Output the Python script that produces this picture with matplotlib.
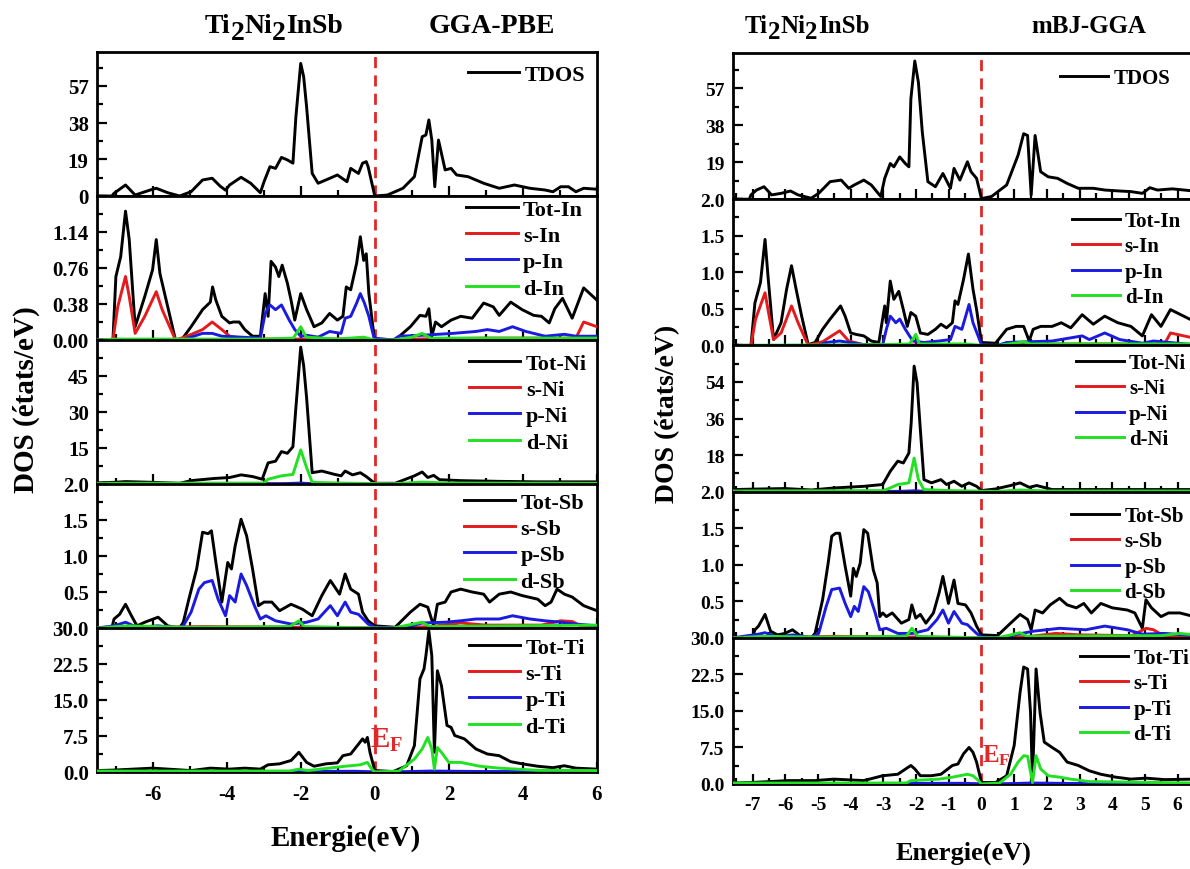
import numpy as np
import matplotlib
matplotlib.use("Agg")
import matplotlib.pyplot as plt
from matplotlib.ticker import FixedLocator, MultipleLocator

plt.rcParams['font.family'] = ['Liberation Serif', 'DejaVu Serif']
plt.rcParams['font.weight'] = 'bold'
plt.rcParams['axes.unicode_minus'] = False
plt.rcParams['mathtext.fontset'] = 'custom'
plt.rcParams['mathtext.rm'] = 'Liberation Serif:bold'
plt.rcParams['mathtext.it'] = 'Liberation Serif:bold'
plt.rcParams['mathtext.bf'] = 'Liberation Serif:bold'

# ---------------- DATA (energy eV, DOS) ----------------
# GGA-PBE (left)
tdos_L = [(-7.5,0),(-7.1,0),(-7.04,1.4),(-6.73,5.7),(-6.47,0.5),(-6.0,3.5),(-5.9,4),(-5.59,1.7),(-5.27,0),(-4.96,2.2),(-4.65,8.3),(-4.39,9.2),(-4.18,5.2),(-4.03,3),(-3.92,5.7),(-3.61,9.7),(-3.35,6.6),(-3.09,1.7),(-2.99,7.4),(-2.83,15.2),(-2.68,14.3),(-2.52,20),(-2.36,18.7),(-2.21,17),(-2.13,41),(-2.0,68.7),(-1.92,61.8),(-1.84,46),(-1.69,11.7),(-1.53,6.6),(-1.32,8.3),(-1.01,10.9),(-0.75,7.4),(-0.65,14.3),(-0.44,11.7),(-0.33,17),(-0.23,17.8),(-0.18,15.2),(0.0,0),(0.34,0.5),(0.76,4),(1.07,10),(1.28,30.7),(1.38,31.6),(1.46,39.4),(1.54,29),(1.62,4.8),(1.72,29),(1.9,13.5),(2.06,14.3),(2.21,10.9),(2.52,10),(2.94,6.6),(3.36,4),(3.77,5.7),(4.19,4),(4.6,3.1),(4.81,2.2),(5.02,4.8),(5.23,4.8),(5.43,2.2),(5.64,4),(6.0,3.5)]

tot_In_L = [(-7.5,0),(-7.07,0),(-6.99,0.67),(-6.86,0.88),(-6.73,1.36),(-6.63,1.06),(-6.47,0.14),(-6.21,0.46),(-6.0,0.74),(-5.9,1.06),(-5.8,0.70),(-5.59,0.35),(-5.38,0),(-5.22,0),(-4.96,0.14),(-4.65,0.32),(-4.44,0.40),(-4.38,0.56),(-4.29,0.42),(-4.13,0.25),(-3.92,0.18),(-3.82,0.19),(-3.66,0.19),(-3.51,0.11),(-3.3,0.04),(-3.09,0.04),(-2.96,0.49),(-2.88,0.25),(-2.8,0.83),(-2.68,0.77),(-2.59,0.67),(-2.5,0.79),(-2.36,0.60),(-2.26,0.42),(-2.16,0.21),(-2.0,0.49),(-1.84,0.32),(-1.64,0.14),(-1.43,0.18),(-1.22,0.28),(-1.01,0.21),(-0.86,0.25),(-0.77,0.56),(-0.65,0.53),(-0.49,0.81),(-0.39,1.09),(-0.3,0.84),(-0.23,0.91),(-0.16,0.49),(-0.02,0.04),(0.03,0),(0.55,0),(0.96,0.14),(1.22,0.26),(1.38,0.25),(1.46,0.33),(1.54,0.04),(1.64,0.19),(1.8,0.14),(2.06,0.21),(2.32,0.25),(2.63,0.23),(2.94,0.39),(3.2,0.35),(3.36,0.26),(3.67,0.40),(3.98,0.32),(4.29,0.26),(4.5,0.25),(4.71,0.18),(4.86,0.33),(5.07,0.44),(5.33,0.23),(5.64,0.55),(6.0,0.42)]
s_In_L = [(-7.5,0),(-7.07,0),(-6.94,0.35),(-6.73,0.67),(-6.63,0.46),(-6.47,0.07),(-6.21,0.25),(-5.9,0.51),(-5.74,0.32),(-5.38,0),(-5.07,0.04),(-4.65,0.11),(-4.39,0.19),(-4.13,0.11),(-3.92,0.04),(-3.61,0.02),(-3.0,0.01),(-0.5,0.01),(0,0),(0.5,0),(1.0,0.01),(3.0,0.02),(5.0,0.02),(5.43,0.02),(5.64,0.19),(6.0,0.14)]
p_In_L = [(-7.5,0),(-5.2,0),(-4.65,0.07),(-4.39,0.07),(-4.13,0.04),(-3.09,0.02),(-2.96,0.28),(-2.83,0.37),(-2.68,0.32),(-2.52,0.37),(-2.31,0.21),(-2.16,0.11),(-2.0,0.04),(-1.84,0.05),(-1.53,0.03),(-1.22,0.09),(-0.91,0.07),(-0.8,0.23),(-0.65,0.25),(-0.49,0.39),(-0.39,0.49),(-0.28,0.39),(-0.16,0.25),(-0.02,0.02),(0.5,0),(0.65,0.04),(1.28,0.05),(2.11,0.07),(2.73,0.09),(3.04,0.11),(3.36,0.09),(3.72,0.14),(4.08,0.09),(4.6,0.04),(5.12,0.06),(5.43,0.04),(6.0,0.04)]
d_In_L = [(-7.5,0),(-7.0,0.01),(-3.0,0.01),(-2.2,0.02),(-2.0,0.14),(-1.85,0.03),(-1.0,0.01),(-0.3,0.03),(0,0),(0.5,0),(1.0,0.03),(1.28,0.07),(1.5,0.02),(3.0,0.02),(6.0,0.02)]

tot_Ni_L = [(-7.5,0.5),(-7.04,0.7),(-6.73,1),(-6.0,0.7),(-5.27,0.3),(-4.96,1.4),(-4.34,2.3),(-3.92,2.7),(-3.61,3.8),(-3.3,3.1),(-3.04,2),(-2.88,8.8),(-2.68,9.5),(-2.52,13.5),(-2.36,12.8),(-2.21,15.5),(-2.13,31.8),(-2.0,57),(-1.92,49.3),(-1.84,35.8),(-1.69,4.7),(-1.43,5.4),(-1.11,4.1),(-0.91,3.4),(-0.8,5.4),(-0.6,3.8),(-0.39,4.7),(-0.23,3.1),(0,0.3),(0.55,0.3),(1.07,3.4),(1.28,5),(1.43,2.7),(1.59,3.6),(1.75,1.8),(2.32,1.4),(3.36,1.1),(4.4,0.9),(6.0,0.9)]
s_Ni_L = [(-7.5,0),(-2.0,0.1),(0,0),(6.0,0.05)]
p_Ni_L = [(-7.5,0),(-2.5,0.1),(-2.0,0.4),(-1.7,0.1),(0,0),(6.0,0.05)]
d_Ni_L = [(-7.5,0.3),(-3.0,0.4),(-2.88,2),(-2.52,3.4),(-2.21,4),(-2.0,14.2),(-1.84,6.8),(-1.69,0.7),(-1.0,0.4),(0,0.2),(0.5,0.1),(1.28,0.8),(2.0,0.4),(6.0,0.3)]

tot_Sb_L = [(-7.5,0),(-7.1,0),(-7.04,0.125),(-6.89,0.19),(-6.73,0.33),(-6.57,0.17),(-6.42,0.03),(-6.21,0.08),(-5.85,0.15),(-5.59,0.03),(-5.27,0),(-5.17,0.08),(-5.02,0.4),(-4.81,0.82),(-4.65,1.33),(-4.5,1.31),(-4.41,1.35),(-4.29,0.91),(-4.13,0.36),(-3.97,0.91),(-3.87,0.82),(-3.77,1.14),(-3.61,1.51),(-3.46,1.28),(-3.3,0.82),(-3.14,0.31),(-2.99,0.36),(-2.78,0.36),(-2.57,0.24),(-2.26,0.33),(-1.95,0.26),(-1.69,0.17),(-1.43,0.45),(-1.2,0.66),(-0.95,0.47),(-0.8,0.75),(-0.65,0.54),(-0.44,0.47),(-0.33,0.22),(-0.18,0.1),(0,0.03),(0.55,0.01),(0.96,0.22),(1.22,0.33),(1.43,0.29),(1.59,0.03),(1.69,0.33),(1.9,0.36),(2.06,0.5),(2.32,0.54),(2.63,0.5),(2.94,0.47),(3.1,0.36),(3.36,0.47),(3.67,0.5),(3.98,0.45),(4.4,0.4),(4.6,0.31),(4.76,0.36),(4.92,0.54),(5.12,0.47),(5.33,0.43),(5.64,0.31),(6.0,0.24)]
s_Sb_L = [(-7.5,0),(-4.6,0.02),(-2.0,0.01),(0,0),(0.5,0),(1.5,0.02),(2.32,0.07),(3.0,0.04),(4.5,0.04),(5.02,0.1),(5.33,0.09),(5.6,0.02),(6.0,0.02)]
p_Sb_L = [(-7.5,0),(-7.04,0.03),(-6.73,0.08),(-6.42,0.01),(-5.85,0.03),(-5.27,0),(-5.17,0.03),(-4.96,0.22),(-4.75,0.54),(-4.6,0.63),(-4.39,0.66),(-4.23,0.40),(-4.03,0.17),(-3.92,0.45),(-3.77,0.36),(-3.61,0.75),(-3.46,0.59),(-3.25,0.31),(-3.09,0.125),(-2.94,0.17),(-2.68,0.1),(-2.26,0.055),(-1.84,0.08),(-1.53,0.125),(-1.2,0.31),(-1.01,0.17),(-0.8,0.36),(-0.65,0.22),(-0.44,0.19),(-0.18,0.055),(0,0.01),(0.8,0),(1.28,0.07),(1.9,0.08),(2.32,0.1),(2.73,0.125),(3.36,0.125),(3.72,0.17),(4.19,0.125),(4.6,0.1),(5.02,0.08),(5.43,0.055),(6.0,0.03)]
d_Sb_L = [(-7.5,0),(-6.7,0.03),(-5.0,0.01),(-2.3,0.02),(-2.05,0.1),(-1.9,0.02),(0,0),(0.5,0),(1.28,0.08),(1.5,0.02),(6.0,0.04)]

tot_Ti_L = [(-7.5,0.3),(-7.04,0.4),(-6.0,0.8),(-4.96,0.3),(-4.44,0.8),(-3.92,0.6),(-3.51,0.8),(-3.09,0.6),(-2.88,1.5),(-2.57,1.7),(-2.26,2.4),(-2.05,4.1),(-1.84,2.0),(-1.64,1.2),(-1.32,1.7),(-1.01,1.9),(-0.86,3.4),(-0.65,3.75),(-0.44,5.8),(-0.33,6.9),(-0.26,6.2),(-0.2,7.2),(-0.13,4.1),(0,0.3),(0.5,0.1),(0.86,1.3),(1.07,5.5),(1.22,19.4),(1.33,21.5),(1.38,24.2),(1.46,29.4),(1.54,24.2),(1.61,4.1),(1.69,21.1),(1.8,18),(1.95,9.7),(2.06,9.3),(2.16,7.6),(2.42,6.9),(2.73,4.8),(3.04,3.75),(3.36,3.4),(3.67,2.15),(3.98,1.7),(4.4,1.2),(4.81,0.9),(5.12,1.3),(5.43,0.8),(6.0,0.6)]
s_Ti_L = [(-7.5,0),(6.0,0.02)]
p_Ti_L = [(-7.5,0.05),(-0.5,0.15),(0,0),(0.5,0),(1.5,0.2),(3.0,0.1),(6.0,0.05)]
d_Ti_L = [(-7.5,0.2),(-2.3,0.2),(-2.05,0.6),(-1.8,0.3),(-0.8,1.2),(-0.39,1.5),(-0.2,2.0),(-0.08,0.6),(0,0),(0.65,0.2),(1.07,2.7),(1.28,4.8),(1.43,7.2),(1.54,4.8),(1.61,0.6),(1.69,5.1),(1.8,4.1),(2.0,2.0),(2.32,2.0),(2.84,1.2),(3.36,0.8),(4.4,0.35),(6.0,0.3)]

# mBJ-GGA (right)
tdos_R = [(-7.6,0),(-7.1,0),(-7.05,2.2),(-6.88,4.7),(-6.65,6.4),(-6.42,2.2),(-6.13,3),(-5.84,4.2),(-5.61,2.2),(-5.21,0.5),(-4.98,3),(-4.63,9),(-4.29,9.8),(-4.06,5.6),(-3.89,7.3),(-3.6,9.8),(-3.37,7.3),(-3.08,1.4),(-2.96,10.7),(-2.79,18.3),(-2.68,16.6),(-2.5,21.7),(-2.33,18.3),(-2.22,16.6),(-2.16,51.4),(-2.04,70.9),(-1.93,60),(-1.81,34.4),(-1.64,9),(-1.41,6.4),(-1.18,13.2),(-0.95,5.6),(-0.84,15.8),(-0.66,9.8),(-0.43,19.2),(-0.32,14.1),(-0.15,10.7),(0.0,0.3),(0.31,1.4),(0.77,7.3),(1.12,22.6),(1.29,33.6),(1.41,32.7),(1.52,2.2),(1.64,32.7),(1.81,14.1),(2.04,11.5),(2.33,10.7),(2.62,8.1),(2.96,5.6),(3.42,5.6),(3.77,4.7),(4.23,4.2),(4.57,3.9),(4.92,3),(5.15,5.9),(5.38,4.7),(5.84,5.3),(6.5,4.2)]

tot_In_R = [(-7.6,0),(-7.05,0),(-6.93,0.58),(-6.76,0.86),(-6.62,1.45),(-6.53,0.95),(-6.36,0.08),(-6.13,0.31),(-5.96,0.77),(-5.81,1.09),(-5.67,0.77),(-5.5,0.4),(-5.3,0.01),(-5.09,0.04),(-4.86,0.22),(-4.63,0.36),(-4.31,0.54),(-4.17,0.4),(-4.0,0.17),(-3.83,0.15),(-3.6,0.13),(-3.37,0.06),(-3.14,0.04),(-2.96,0.54),(-2.91,0.31),(-2.79,0.88),(-2.68,0.63),(-2.53,0.74),(-2.39,0.49),(-2.27,0.26),(-2.16,0.45),(-2.01,0.4),(-1.87,0.17),(-1.64,0.15),(-1.41,0.22),(-1.24,0.29),(-1.07,0.24),(-0.89,0.31),(-0.81,0.61),(-0.72,0.56),(-0.55,0.9),(-0.4,1.25),(-0.26,0.77),(-0.15,0.49),(0,0.04),(0.43,0.03),(0.77,0.22),(1.06,0.26),(1.29,0.26),(1.46,0.06),(1.58,0.22),(1.81,0.26),(2.16,0.26),(2.44,0.31),(2.73,0.24),(3.08,0.42),(3.42,0.29),(3.77,0.40),(4.17,0.31),(4.57,0.26),(4.92,0.13),(5.2,0.42),(5.49,0.26),(5.78,0.49),(6.5,0.33)]
s_In_R = [(-7.6,0),(-7.05,0),(-6.91,0.36),(-6.62,0.72),(-6.53,0.49),(-6.36,0.08),(-6.13,0.17),(-5.81,0.54),(-5.61,0.31),(-5.3,0),(-4.86,0.05),(-4.34,0.2),(-4.06,0.06),(-3.6,0.01),(0,0),(0.5,0),(2.0,0.02),(5.6,0.02),(5.78,0.17),(6.5,0.1)]
p_In_R = [(-7.6,0),(-5.0,0),(-4.75,0.04),(-4.34,0.06),(-3.6,0.01),(-3.02,0.01),(-2.91,0.22),(-2.79,0.4),(-2.62,0.31),(-2.5,0.36),(-2.33,0.22),(-2.1,0.06),(-1.76,0.04),(-1.3,0.06),(-0.95,0.08),(-0.81,0.26),(-0.6,0.22),(-0.38,0.56),(-0.26,0.31),(0,0.01),(0.5,0),(0.77,0.04),(2.16,0.06),(3.08,0.13),(3.3,0.08),(3.77,0.17),(4.23,0.08),(4.92,0.03),(5.26,0.06),(6.5,0.01)]
d_In_R = [(-7.6,0),(-3.0,0.01),(-2.2,0.02),(-2.01,0.15),(-1.9,0.02),(-0.5,0.02),(0,0),(0.5,0),(1.0,0.03),(1.29,0.05),(1.5,0.02),(6.5,0.02)]

tot_Ni_R = [(-7.6,1),(-7.05,1.2),(-6.0,1.5),(-5.2,0.8),(-4.5,1.8),(-3.6,2.6),(-3.02,3.5),(-2.79,10),(-2.56,15),(-2.39,14.1),(-2.22,19),(-2.15,33.9),(-2.06,61.8),(-1.97,53.6),(-1.87,30.6),(-1.76,5.9),(-1.53,4.3),(-1.24,5.9),(-1.07,3.5),(-0.84,5.1),(-0.6,2.6),(-0.38,4.3),(-0.15,2.6),(0,0.5),(0.43,1.3),(0.89,3),(1.18,4.3),(1.46,2.1),(1.69,3),(2.16,1),(6.5,1)]
s_Ni_R = [(-7.6,0),(-2.0,0.1),(0,0),(6.5,0.05)]
p_Ni_R = [(-7.6,0),(-2.5,0.1),(-2.05,0.4),(-1.7,0.1),(0,0),(6.5,0.05)]
d_Ni_R = [(-7.6,0.3),(-3.0,0.5),(-2.79,1.8),(-2.56,3.5),(-2.22,4.3),(-2.06,16.5),(-1.93,5.9),(-1.76,1),(-1.0,0.5),(0,0.2),(0.5,0.1),(1.18,0.8),(2.0,0.3),(6.5,0.3)]

tot_Sb_R = [(-7.6,0),(-7.0,0),(-6.93,0.11),(-6.82,0.16),(-6.62,0.32),(-6.45,0.09),(-6.24,0.04),(-6.01,0.06),(-5.78,0.11),(-5.55,0.03),(-5.21,0),(-5.09,0.06),(-4.86,0.52),(-4.69,1.02),(-4.58,1.39),(-4.46,1.43),(-4.34,1.43),(-4.17,0.98),(-4.0,0.57),(-3.92,0.95),(-3.83,0.84),(-3.71,1.02),(-3.6,1.48),(-3.48,1.43),(-3.31,0.93),(-3.19,0.75),(-3.11,0.29),(-3.02,0.34),(-2.91,0.29),(-2.73,0.34),(-2.45,0.2),(-2.22,0.25),(-2.13,0.45),(-2.01,0.27),(-1.87,0.32),(-1.7,0.2),(-1.47,0.34),(-1.3,0.61),(-1.18,0.84),(-1.01,0.47),(-0.84,0.79),(-0.72,0.47),(-0.49,0.45),(-0.32,0.34),(-0.15,0.16),(0,0.04),(0.49,0.03),(0.89,0.2),(1.18,0.32),(1.41,0.25),(1.52,0.11),(1.64,0.38),(1.87,0.34),(2.1,0.45),(2.39,0.54),(2.62,0.45),(2.9,0.41),(3.13,0.47),(3.36,0.34),(3.65,0.47),(4.0,0.41),(4.46,0.38),(4.69,0.34),(4.92,0.13),(5.03,0.52),(5.2,0.41),(5.49,0.29),(5.72,0.34),(6.07,0.34),(6.5,0.29)]
s_Sb_R = [(-7.6,0),(-4.5,0.02),(-2.0,0.01),(0,0),(0.5,0),(1.5,0.02),(2.27,0.06),(3.0,0.04),(4.6,0.03),(5.03,0.13),(5.26,0.11),(5.6,0.02),(6.5,0.02)]
p_Sb_R = [(-7.6,0),(-6.82,0.05),(-6.62,0.07),(-6.24,0.01),(-5.78,0.04),(-5.21,0),(-4.98,0.06),(-4.75,0.43),(-4.58,0.66),(-4.34,0.68),(-4.17,0.47),(-4.0,0.29),(-3.89,0.43),(-3.77,0.36),(-3.6,0.7),(-3.46,0.63),(-3.25,0.34),(-3.11,0.11),(-2.91,0.13),(-2.56,0.06),(-2.1,0.06),(-1.64,0.11),(-1.36,0.25),(-1.18,0.38),(-1.01,0.2),(-0.84,0.36),(-0.6,0.2),(-0.43,0.18),(-0.15,0.06),(0,0.01),(0.7,0),(1.0,0.04),(1.58,0.09),(2.39,0.13),(3.19,0.11),(3.77,0.16),(4.46,0.11),(4.92,0.05),(5.6,0.06),(6.5,0.03)]
d_Sb_R = [(-7.6,0),(-6.6,0.02),(-5.0,0.01),(-2.3,0.02),(-2.13,0.13),(-1.95,0.02),(0,0),(0.5,0),(1.18,0.07),(1.4,0.02),(5.5,0.03),(6.07,0.06),(6.5,0.04)]

tot_Ti_R = [(-7.6,0.2),(-7.05,0.3),(-5.9,0.7),(-5.09,0.7),(-4.52,1.0),(-3.6,0.7),(-3.02,1.7),(-2.56,2.0),(-2.16,3.8),(-2.04,3.1),(-1.87,1.7),(-1.53,1.7),(-1.24,2.0),(-0.89,3.8),(-0.72,4.1),(-0.55,6.2),(-0.38,7.5),(-0.26,6.5),(-0.15,4.5),(0,0.3),(0.43,0.3),(0.77,1.7),(1.0,7.9),(1.18,18.8),(1.29,24.0),(1.41,23.6),(1.5,14.7),(1.56,0.7),(1.67,23.6),(1.79,14.7),(1.92,8.6),(2.16,7.5),(2.39,6.5),(2.62,4.5),(2.96,3.8),(3.3,2.7),(3.65,2.0),(4.11,1.4),(4.57,1.0),(5.03,1.2),(5.6,0.9),(6.5,1.0)]
s_Ti_R = [(-7.6,0),(6.5,0.02)]
p_Ti_R = [(-7.6,0.05),(-0.5,0.15),(0,0),(0.5,0),(1.5,0.2),(3.0,0.1),(6.5,0.05)]
d_Ti_R = [(-7.6,0.2),(-2.3,0.2),(-2.16,0.7),(-1.3,1.0),(-0.89,1.4),(-0.43,2.0),(-0.26,1.7),(-0.09,0.7),(0,0),(0.55,0.2),(0.89,2.0),(1.12,4.5),(1.29,5.8),(1.41,5.7),(1.56,0.3),(1.67,5.8),(1.81,3.1),(2.04,1.7),(2.39,1.4),(2.73,1.0),(3.3,0.5),(6.5,0.2)]

# y-axis setup per panel: (ylim_top, ticks, labels)
yaxes_L = [(74.6, [0, 19, 38, 57], ['0', '19', '38', '57']),
           (1.52, [0, 0.38, 0.76, 1.14], ['0.00', '0.38', '0.76', '1.14']),
           (60, [0, 15, 30, 45], ['', '15', '30', '45']),
           (2.0, [0, 0.5, 1.0, 1.5, 2.0], ['', '0.5', '1.0', '1.5', '2.0']),
           (30, [0, 7.5, 15, 22.5, 30], ['0.0', '7.5', '15.0', '22.5', '30.0'])]
yaxes_R = [(75, [0, 19, 38, 57], ['', '19', '38', '57']),
           (2.0, [0, 0.5, 1.0, 1.5, 2.0], ['0.0', '0.5', '1.0', '1.5', '2.0']),
           (72, [0, 18, 36, 54], ['', '18', '36', '54']),
           (2.0, [0, 0.5, 1.0, 1.5, 2.0], ['', '0.5', '1.0', '1.5', '2.0']),
           (30, [0, 7.5, 15, 22.5, 30], ['0.0', '7.5', '15.0', '22.5', '30.0'])]

panels_L = [[('TDOS', tdos_L)],
            [('Tot-In', tot_In_L), ('s-In', s_In_L), ('p-In', p_In_L), ('d-In', d_In_L)],
            [('Tot-Ni', tot_Ni_L), ('s-Ni', s_Ni_L), ('p-Ni', p_Ni_L), ('d-Ni', d_Ni_L)],
            [('Tot-Sb', tot_Sb_L), ('s-Sb', s_Sb_L), ('p-Sb', p_Sb_L), ('d-Sb', d_Sb_L)],
            [('Tot-Ti', tot_Ti_L), ('s-Ti', s_Ti_L), ('p-Ti', p_Ti_L), ('d-Ti', d_Ti_L)]]
panels_R = [[('TDOS', tdos_R)],
            [('Tot-In', tot_In_R), ('s-In', s_In_R), ('p-In', p_In_R), ('d-In', d_In_R)],
            [('Tot-Ni', tot_Ni_R), ('s-Ni', s_Ni_R), ('p-Ni', p_Ni_R), ('d-Ni', d_Ni_R)],
            [('Tot-Sb', tot_Sb_R), ('s-Sb', s_Sb_R), ('p-Sb', p_Sb_R), ('d-Sb', d_Sb_R)],
            [('Tot-Ti', tot_Ti_R), ('s-Ti', s_Ti_R), ('p-Ti', p_Ti_R), ('d-Ti', d_Ti_R)]]

COLORS = ['black', '#e41a1c', '#1a1ae0', '#22e022']
EF_COLOR = '#e02828'

W, H = 1190, 870
fig = plt.figure(figsize=(W / 100, H / 100), dpi=100)


def px(x, y):
    return x / W, 1 - y / H


def build(panels, yaxes, x0, x1, top, bottom, xlim, xmaj, xmin, legpos, legsize,
          ticksize, xticksize, ef_pos, ef_size):
    h = (bottom - top) / 5
    axes = []
    for i, (series, (ytop, yt, yl), lp) in enumerate(zip(panels, yaxes, legpos)):
        ax = fig.add_axes([x0 / W, 1 - (top + (i + 1) * h) / H, (x1 - x0) / W, h / H])
        for j, (lab, pts) in enumerate(series):
            a = np.array(pts, dtype=float)
            ax.plot(a[:, 0], a[:, 1], color=COLORS[j], lw=2.1, label=lab, zorder=3 + j)
        ax.axvline(0, color=EF_COLOR, lw=2.0, ls=(0, (4, 2.6)), zorder=2)
        ax.set_xlim(*xlim)
        ax.set_ylim(0, ytop)
        ax.yaxis.set_major_locator(FixedLocator(yt))
        ax.set_yticklabels(yl)
        step = yt[1] - yt[0]
        ax.yaxis.set_minor_locator(MultipleLocator(step / 2))
        ax.xaxis.set_major_locator(MultipleLocator(xmaj))
        ax.xaxis.set_minor_locator(MultipleLocator(xmin))
        ax.tick_params(which='both', direction='in', width=1.6, top=False, right=False)
        ax.tick_params(axis='y', labelsize=ticksize, pad=6)
        ax.tick_params(axis='x', labelsize=xticksize)
        ax.tick_params(which='major', length=7)
        ax.tick_params(which='minor', length=4)
        for s in ax.spines.values():
            s.set_linewidth(2.0)
        if i < 4:
            ax.tick_params(axis='x', labelbottom=False)
        else:
            ax.tick_params(axis='x', pad=9)
        for t in ax.get_xticklabels() + ax.get_yticklabels():
            t.set_fontweight('bold')
        lx, ly = lp
        ax.legend(loc='upper right', bbox_to_anchor=px(lx, ly), bbox_transform=fig.transFigure,
                  frameon=False, handlelength=2.3, handletextpad=0.25,
                  labelspacing=0.26, borderpad=0.0, borderaxespad=0.0,
                  prop={'weight': 'bold', 'size': legsize})
        axes.append(ax)
    ex, ey = ef_pos
    axes[4].text(ex, ey, r'E$_\mathrm{F}$', color=EF_COLOR, fontsize=ef_size, fontweight='bold',
                 ha='left', va='baseline', zorder=10)
    return axes


build(panels_L, yaxes_L, 97, 597, 53, 773, (-7.5, 6.0), 2, 1,
      [(585, 65), (583, 200), (587, 354), (584, 493), (585, 638)], 16,
      15, 15, (-0.14, 5.3), 21)
build(panels_R, yaxes_R, 733, 1194, 54, 785, (-7.6, 6.5), 1, 0.5,
      [(1170, 69), (1181, 212), (1186, 354), (1184, 507), (1189, 649)], 15,
      14, 14, (0.03, 4.7), 18)

renderer = fig.canvas.get_renderer()


def formula(xc, yb, size, drop):
    parts = [('Ti', 0), ('2', 1), ('Ni', 0), ('2', 1), ('InSb', 0)]
    texts, widths = [], []
    for s, sub in parts:
        t = fig.text(0, 0, s, fontsize=size, fontweight='bold', ha='left', va='baseline')
        widths.append(t.get_window_extent(renderer).width)
        texts.append(t)
    x = xc - sum(widths) / 2
    for t, (s, sub), w in zip(texts, parts, widths):
        t.set_position(px(x, yb + (drop if sub else 0)))
        x += w


# titles
formula(274, 33, 20, 7)
fig.text(*px(492, 33), 'GGA-PBE', ha='center', va='baseline', fontsize=20, fontweight='bold')
formula(807, 33, 18, 6)
fig.text(*px(1089, 33), 'mBJ-GGA', ha='center', va='baseline', fontsize=18, fontweight='bold')

# axis labels
fig.text(*px(26, 400), 'DOS (états/eV)', rotation=90, ha='center', va='center', fontsize=21, fontweight='bold')
fig.text(*px(668, 414), 'DOS (états/eV)', rotation=90, ha='center', va='center', fontsize=20, fontweight='bold')
fig.text(*px(346, 838), 'Energie(eV)', ha='center', va='center', fontsize=21, fontweight='bold')
fig.text(*px(964, 853), 'Energie(eV)', ha='center', va='center', fontsize=19, fontweight='bold')

fig.savefig('out.png', dpi=100)
